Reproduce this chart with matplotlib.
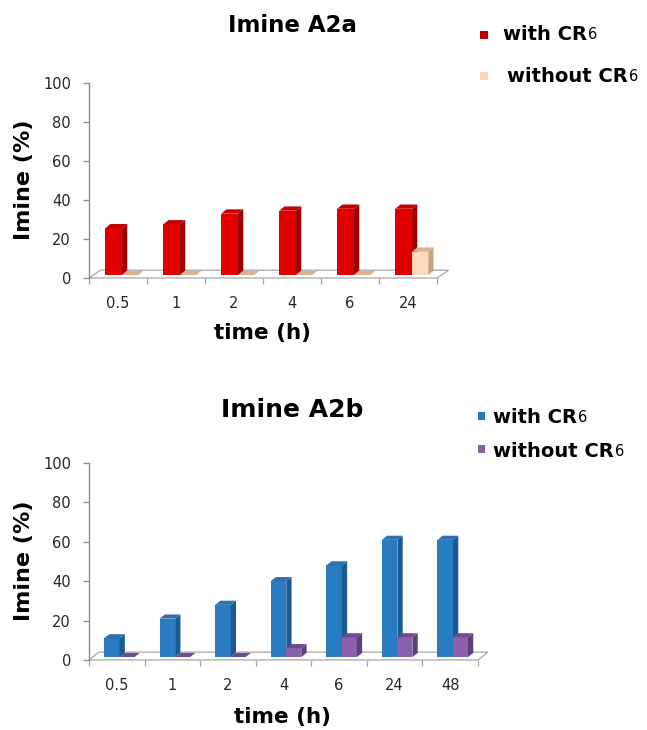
import numpy as np
import matplotlib
matplotlib.use("Agg")
import matplotlib.pyplot as plt
from matplotlib.patches import Polygon, Rectangle

# data
times_a = ["0.5", "1", "2", "4", "6", "24"]
with_a = [24, 26, 31.5, 33, 34, 34]
without_a = [0, 0, 0, 0, 0, 12]

times_b = ["0.5", "1", "2", "4", "6", "24", "48"]
with_b = [9.5, 19.5, 26.5, 38.5, 46.5, 59.5, 59.5]
without_b = [0, 0, 0, 4.5, 10, 10, 10]

W, H = 647, 730
AXIS_GRAY = "#8c8c8c"
FLOOR_GRAY = "#a6a6a6"
TXT = "#262626"

fig = plt.figure(figsize=(W / 100, H / 100), dpi=100)


def fx(x):
    return x / W


def fy(y):
    return 1 - y / H


def bars3d(ax, vals, x_off, w, base, dx, dy, front, side, top, z):
    centers = np.arange(len(vals)) + 0.5
    bars = ax.bar(centers + x_off, vals, width=w, bottom=base, align="edge",
                  color=front, linewidth=0, zorder=z)
    for r in bars:
        x0, y0 = r.get_x(), r.get_y()
        x1, y1 = x0 + r.get_width(), y0 + r.get_height()
        ax.add_patch(Polygon([(x1, y0), (x1 + dx, y0 + dy), (x1 + dx, y1 + dy), (x1, y1)],
                             closed=True, facecolor=side, edgecolor="none", zorder=z))
        ax.add_patch(Polygon([(x0, y1), (x1, y1), (x1 + dx, y1 + dy), (x0 + dx, y1 + dy)],
                             closed=True, facecolor=top, edgecolor="none", zorder=z))
        r.set_clip_on(False)


def setup_axes(ax, labels, floor_dx, floor_dy):
    n = len(labels)
    ax.set_xlim(0, n)
    ax.set_ylim(0, 100)
    for s in ["top", "right", "bottom"]:
        ax.spines[s].set_visible(False)
    ax.spines["left"].set_color(AXIS_GRAY)
    ax.spines["left"].set_linewidth(1.0)
    ax.add_patch(Polygon([(0, 0), (n, 0), (n + floor_dx, floor_dy), (floor_dx, floor_dy)],
                         closed=True, facecolor="white", edgecolor=FLOOR_GRAY,
                         linewidth=0.9, zorder=1, clip_on=False))
    ax.set_yticks(np.arange(0, 101, 20))
    ax.set_xticks(np.arange(n) + 0.5)
    ax.set_xticklabels(labels)
    ax.set_xticks(np.arange(n + 1), minor=True)
    ax.tick_params(axis="y", direction="out", length=4, width=0.9, color=AXIS_GRAY,
                   labelsize=10.5, labelcolor=TXT, pad=9)
    ax.tick_params(axis="x", which="major", length=0, labelsize=10.5, labelcolor=TXT, pad=13)
    ax.tick_params(axis="x", which="minor", direction="out", length=4, width=0.9,
                   color=FLOOR_GRAY)
    ax.patch.set_alpha(0)


# top chart: Imine A2a
ax1 = fig.add_axes([fx(89), fy(278), fx(437) - fx(89), fy(83) - fy(278)])
setup_axes(ax1, times_a, 0.2, 4.0)
bars3d(ax1, with_a, -0.22, 0.29, 1.5, 0.09, 2.2, "#e00000", "#9e0000", "#c40000", 3)
bars3d(ax1, without_a, 0.07, 0.28, 1.5, 0.09, 2.2, "#fdd8bb", "#c9a284", "#d8b293", 4)

# bottom chart: Imine A2b
ax2 = fig.add_axes([fx(89), fy(660), fx(478) - fx(89), fy(463) - fy(660)])
setup_axes(ax2, times_b, 0.18, 4.0)
bars3d(ax2, with_b, -0.23, 0.28, 1.5, 0.095, 2.1, "#2a7cc2", "#1b5a92", "#2f6fae", 3)
bars3d(ax2, without_b, 0.05, 0.27, 1.5, 0.095, 2.1, "#8b62a9", "#5e3f7c", "#6e4c8e", 4)

# titles and axis labels
fig.text(fx(292), fy(25), "Imine A2a", ha="center", va="center",
         fontsize=16.5, fontweight="bold")
fig.text(fx(292), fy(410), "Imine A2b", ha="center", va="center",
         fontsize=18, fontweight="bold")
for yc in (180, 561):
    fig.text(fx(24), fy(yc), "Imine (%)", ha="center", va="center", rotation=90,
             fontsize=16, fontweight="bold")
fig.text(fx(262), fy(333), "time (h)", ha="center", va="center",
         fontsize=15.5, fontweight="bold")
fig.text(fx(282), fy(717), "time (h)", ha="center", va="center",
         fontsize=15.5, fontweight="bold")

# legends
renderer = fig.canvas.get_renderer()


def legend_entry(mx, my, msize, color, tx, baseline, text):
    fig.add_artist(Rectangle((fx(mx - msize / 2), fy(my + msize / 2)), msize / W, msize / H,
                             transform=fig.transFigure, facecolor=color, edgecolor="none"))
    t = fig.text(fx(tx), fy(baseline), text, ha="left", va="baseline",
                 fontsize=14, fontweight="bold")
    bb = t.get_window_extent(renderer)
    fig.text((bb.x1 + 1) / W, fy(baseline - 1), "6", ha="left", va="baseline",
             fontsize=10.5)


legend_entry(483.5, 35, 8, "#c00000", 503, 40, "with CR")
legend_entry(483.5, 75.5, 8, "#fbd5b5", 507, 82, "without CR")
legend_entry(481.5, 416, 7.5, "#2e75b6", 493, 423, "with CR")
legend_entry(481.5, 449, 7.5, "#8064a2", 493, 457, "without CR")

fig.savefig("out.png", dpi=100)
